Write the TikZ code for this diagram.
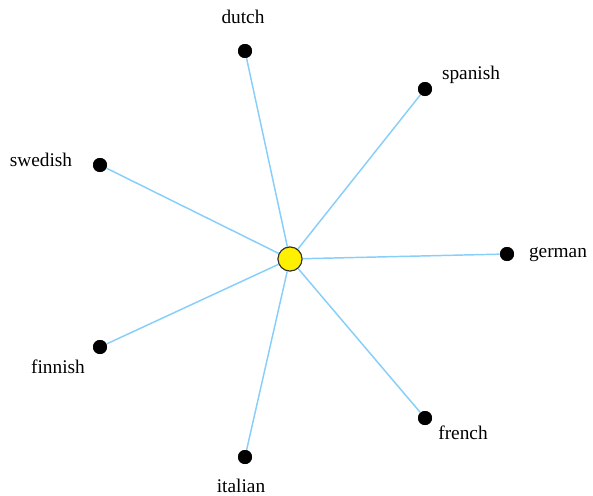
\documentclass[tikz,border=0pt]{standalone}
\usepackage{fontspec}
\setmainfont{Liberation Serif}
\definecolor{edgeblue}{RGB}{135,206,250}
\definecolor{hubyellow}{RGB}{255,240,0}
\begin{document}
\begin{tikzpicture}[x=0.75pt,y=-0.75pt,
  leaf/.style={circle,fill=black,inner sep=0pt,minimum size=10.5pt},
  hub/.style={circle,fill=hubyellow,draw=black!80,line width=0.8pt,inner sep=0pt,minimum size=18pt},
  lbl/.style={font=\fontsize{14.5}{16}\selectfont,inner sep=0pt},
  edge/.style={draw=edgeblue,line width=1.1pt}]
\useasboundingbox (0,0) rectangle (593,496);
\node[hub] (c) at (290,259) {};
\node[leaf] (dutch) at (245,51) {};
\node[leaf] (spanish) at (425,89) {};
\node[leaf] (swedish) at (100,165) {};
\node[leaf] (german) at (507,254) {};
\node[leaf] (finnish) at (100,347) {};
\node[leaf] (french) at (425,418) {};
\node[leaf] (italian) at (245,457) {};
\foreach \n in {dutch,spanish,swedish,german,finnish,french,italian}
  \path[edge] (c) -- (\n);
\node[hub] at (c) {};
\foreach \n in {dutch,spanish,swedish,german,finnish,french,italian}
  \node[leaf] at (\n) {};
\node[lbl] (tdutch) at (243,17) {dutch};
\node[lbl] (tspanish) at (471,75) {spanish};
\node[lbl] (tswedish) at (41,160) {swedish};
\node[lbl] (tgerman) at (558,255) {german};
\node[lbl] (tfinnish) at (58,367) {finnish};
\node[lbl] (tfrench) at (463,433) {french};
\node[lbl] (titalian) at (241,486) {italian};
\end{tikzpicture}
\end{document}
